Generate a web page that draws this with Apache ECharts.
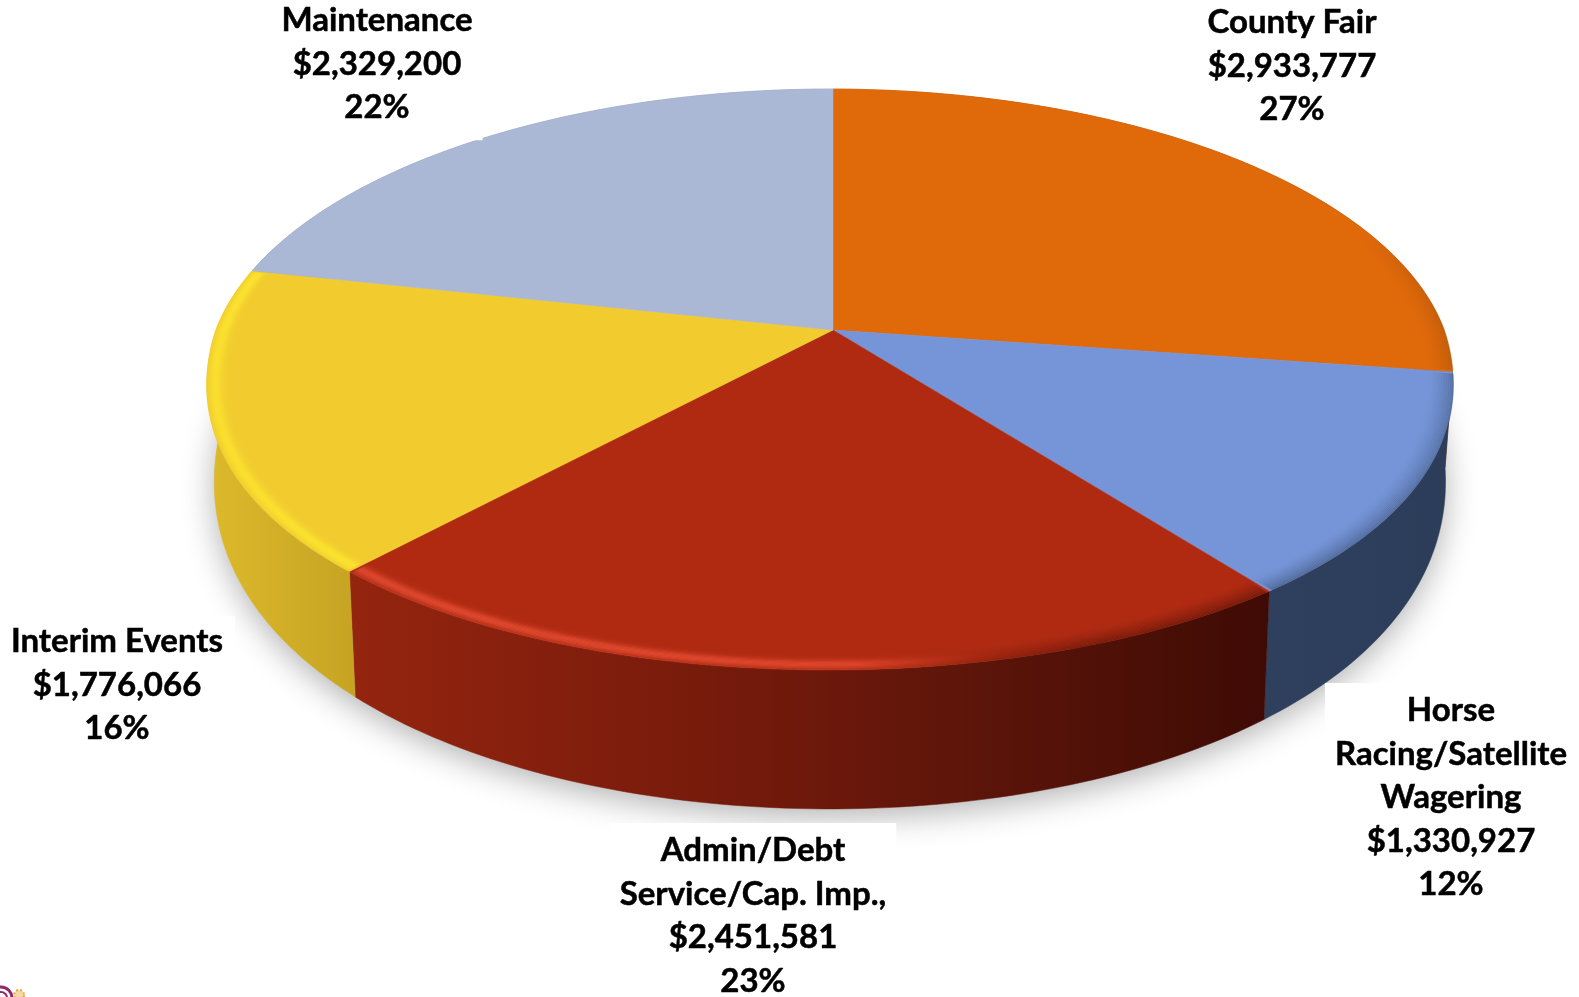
<!DOCTYPE html>
<html>
<head>
<meta charset="utf-8">
<style>html,body{margin:0;padding:0;background:#fff}#chart{width:1579px;height:997px}</style>
<script src="https://cdn.jsdelivr.net/npm/echarts@6/dist/echarts.min.js"></script>
</head>
<body>
<div id="chart"></div>
<script>
// Revenue by program, clockwise from twelve o'clock.
const categories = ['County Fair', 'Horse\nRacing/Satellite\nWagering', 'Admin/Debt\nService/Cap. Imp.,', 'Interim Events', 'Maintenance'];
const revenues = [2933777, 1330927, 2451581, 1776066, 2329200];

// Slice styling, same order as the categories.
const topColors = ['#E0690A', '#7595D8', '#B02A12', '#F2CC2E', '#AAB7D5'];
const wallStops = [
  ['#A45008', '#9C4A08'],
  ['#2F405E', '#2C3D5A'],
  ['#94250F', '#7C1C0C', '#5E150A', '#3E0B04'],
  ['#DDB92B', '#C6A423'],
  ['#8A95AE', '#8A95AE']
];
const clear = 'rgba(255,255,255,0)';
// Rim treatment per slice: a lit crest and a darkening toward the wall, as horizontal gradients.
const rimLight = [
  null,
  null,
  [[0, '#F0553A'], [0.55, '#EA4E32'], [0.72, 'rgba(176,42,18,0)'], [1, 'rgba(176,42,18,0)']],
  [[0, '#FFEE2E'], [1, '#FFEE2E']],
  null
];
const rimShade = [
  [[0, 'rgba(154,76,8,0)'], [0.86, 'rgba(154,76,8,0)'], [1, '#9A4C08']],
  [[0, '#2F405E'], [1, '#2F405E']],
  [[0, 'rgba(66,12,4,0)'], [0.6, 'rgba(66,12,4,0)'], [0.8, '#4E1006'], [1, '#420C04']],
  null,
  null
];

// Label anchors: centre x, top y of the white box, and the box padding around each text.
const labelAnchors = [[1292, 0], [1451, 683], [753, 823], [117, 616], [377, -3]];
const labelPadding = [[1, 14, 8, 14], [6, 10, 40, 10], [6, 10, 6, 10], [4, 12, 6, 12], [2, 10, 11, 10]];

// Disc seen in perspective: a unit circle mapped onto the page.
const view = { cx: 833, cy: 330, a: 614, b: 282, k: 0.1704, m: -0.005, belly: 35, wallBase: 89, wallGrow: 50, wallScale: 0.988 };
const total = revenues.reduce((s, v) => s + v, 0);
let running = 0;
const sliceRows = revenues.map((v, i) => {
  const row = [running / total, (running + v) / total, i];
  running += v;
  return row;
});
const formatLabel = i => categories[i] + '\n$' + revenues[i].toLocaleString('en-US') + '\n' + Math.round(revenues[i] / total * 100) + '%';

function discPoint(share, r) {
  const t = share * 2 * Math.PI, u = r * Math.sin(t), v = -r * Math.cos(t);
  const w = 1 - view.k * v - view.m * u;
  const front = Math.max(0, -Math.cos(t));
  const sag = view.belly * r * front * (1 - front);
  return [view.cx + view.a * u / w, view.cy + view.b * v / w + sag, v];
}
function floorPoint(share) {
  const p = discPoint(share, 1);
  return [view.cx + (p[0] - view.cx) * view.wallScale, p[1] + view.wallBase + view.wallGrow * p[2]];
}
function arc(from, to, fn) {
  const n = Math.max(8, Math.ceil((to - from) * 360)), out = [];
  for (let i = 0; i <= n; i++) out.push(fn(from + (to - from) * i / n));
  return out;
}
const horizontal = stops => ({ type: 'linear', x: 0, y: 0, x2: 1, y2: 0, colorStops: stops });
const gradientOf = pairs => horizontal(pairs.map(([offset, color]) => ({ offset, color })));

const renderShadow = (params, api) => {
  const points = arc(0, 1, s => api.coord(floorPoint(s)));
  return { type: 'polygon', shape: { points }, style: { fill: '#d9d9d9', shadowColor: 'rgba(0,0,0,0.3)', shadowBlur: 32, shadowOffsetY: 8 } };
};
const renderWall = (params, api) => {
  const from = api.value(0), to = api.value(1), i = api.value(2);
  const top = arc(from, to, s => api.coord(discPoint(s, 1)));
  const floor = arc(from, to, s => api.coord(floorPoint(s))).reverse();
  const stops = wallStops[i].map((c, j, a) => ({ offset: j / (a.length - 1), color: c }));
  const fill = horizontal(stops);
  return { type: 'polygon', shape: { points: top.concat(floor) }, style: { fill, stroke: fill, lineWidth: 0.5 } };
};
// Closely spaced strokes just inside the rim give the soft rounded edge.
const rimSteps = [];
for (let n = 0; n < 16; n++) rimSteps.push(n / 15);
const crest = f => 0.55 * Math.exp(-Math.pow((f - 0.68) / 0.24, 2));
const ramp = f => 0.36 * Math.pow(f, 1.6);
const renderTop = (params, api) => {
  const from = api.value(0), to = api.value(1), i = api.value(2);
  const outer = arc(from, to, s => api.coord(discPoint(s, 1)));
  const apex = api.coord(discPoint(0, 0));
  const children = [{
    type: 'polygon', shape: { points: [apex].concat(outer) },
    style: { fill: topColors[i], stroke: topColors[i], lineWidth: 0.5 }
  }];
  const addRim = (pairs, strength) => {
    if (!pairs) return;
    const stroke = gradientOf(pairs);
    rimSteps.forEach(f => {
      const r = 0.958 + 0.042 * f;
      children.push({
        type: 'polyline', shape: { points: arc(from + 0.0008, to - 0.0008, s => api.coord(discPoint(s, r))) },
        style: { stroke, fill: 'none', lineWidth: 2, opacity: strength(f) }
      });
    });
  };
  addRim(rimShade[i], ramp);
  addRim(rimLight[i], crest);
  return { type: 'group', children };
};
const renderLabel = (params, api) => {
  const i = api.value(2), at = api.coord(labelAnchors[i]);
  return {
    type: 'text',
    style: {
      x: at[0], y: at[1], text: formatLabel(i), align: 'center', verticalAlign: 'top',
      font: '700 33px Lato', lineHeight: 43.4, fill: '#000', stroke: '#000', lineWidth: 0.5,
      backgroundColor: '#fff', padding: labelPadding[i]
    }
  };
};

const customSeries = (name, data, renderItem) => ({
  name, type: 'custom', coordinateSystem: 'cartesian2d', data, renderItem, silent: true, animation: false, clip: false
});

const chart = echarts.init(document.getElementById('chart'), null, { renderer: 'canvas' });
chart.setOption({
  backgroundColor: '#fff',
  animation: false,
  tooltip: { show: false },
  grid: { left: 0, right: 0, top: 0, bottom: 0 },
  xAxis: { type: 'value', min: 0, max: 1579, show: false },
  yAxis: { type: 'value', min: 0, max: 997, inverse: true, show: false },
  series: [
    customSeries('shadow', [[0, 1, 0]], renderShadow),
    customSeries('walls', sliceRows, renderWall),
    customSeries('tops', sliceRows, renderTop),
    customSeries('labels', sliceRows, renderLabel)
  ],
  // Corner of the organisation's emblem at the foot of the page.
  graphic: [
    { type: 'arc', shape: { cx: 1, cy: 998, r: 11, startAngle: 0, endAngle: Math.PI * 2 }, style: { stroke: '#8E2A6B', fill: 'none', lineWidth: 3 }, silent: true },
    { type: 'arc', shape: { cx: 1, cy: 998, r: 6, startAngle: 0, endAngle: Math.PI * 2 }, style: { stroke: '#8E2A6B', fill: 'none', lineWidth: 2 }, silent: true },
    { type: 'circle', shape: { cx: 19, cy: 995, r: 5 }, style: { fill: '#F4D9A6', stroke: '#E8A94A', lineWidth: 2, lineDash: [2, 2] }, silent: true }
  ]
});
</script>
</body>
</html>
